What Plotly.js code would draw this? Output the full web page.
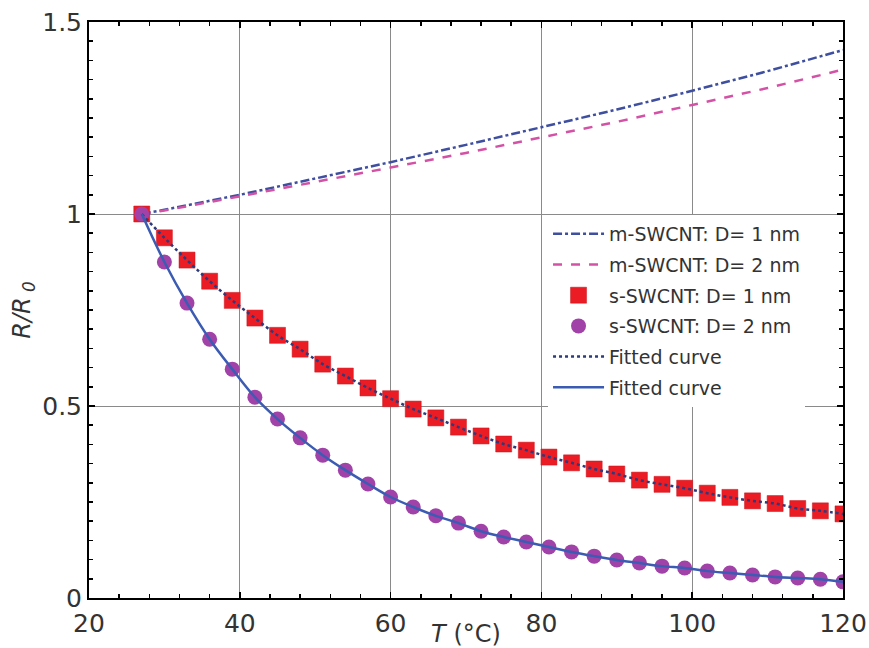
<!DOCTYPE html>
<html>
<head>
<meta charset="utf-8">
<script src="https://cdn.plot.ly/plotly-3.0.1.min.js"></script>
<style>html,body{margin:0;padding:0;background:#fff;}#chart{width:869px;height:648px;}</style>
</head>
<body>
<div id="chart"></div>
<script>
// Temperature (°C) for the s-SWCNT data points
const temps = [27,30,33,36,39,42,45,48,51,54,57,60,63,66,69,72,75,78,81,84,87,90,93,96,99,102,105,108,111,114,117,120];
// s-SWCNT D = 1 nm (R/R0)
const sD1 = [1.000,0.938,0.880,0.825,0.775,0.729,0.684,0.648,0.609,0.578,0.547,0.519,0.492,0.469,0.445,0.422,0.401,0.385,0.367,0.352,0.336,0.323,0.307,0.296,0.286,0.273,0.262,0.253,0.246,0.233,0.227,0.219];
// s-SWCNT D = 2 nm (R/R0)
const sD2 = [1.000,0.875,0.768,0.674,0.596,0.523,0.466,0.417,0.372,0.333,0.297,0.263,0.237,0.214,0.195,0.174,0.159,0.146,0.133,0.120,0.109,0.099,0.091,0.083,0.078,0.070,0.065,0.060,0.055,0.052,0.049,0.042];
// m-SWCNT curves
const tempsM = [27,30,40,50,60,70,80,90,100,110,120];
const mD1 = [1.000,1.011,1.050,1.092,1.135,1.180,1.226,1.272,1.321,1.372,1.427];
const mD2 = [1.000,1.009,1.046,1.083,1.121,1.159,1.199,1.240,1.284,1.328,1.376];
const names = ['m-SWCNT: D= 1 nm','m-SWCNT: D= 2 nm','s-SWCNT: D= 1 nm','s-SWCNT: D= 2 nm','Fitted curve','Fitted curve'];
const xTicks = [20,40,60,80,100,120];
const yTicks = [0,0.5,1,1.5];
const yTickText = ['0','0.5','1','1.5'];

const FONT = 'DejaVu Sans, Arial, sans-serif';
const traces = [
  {x: tempsM, y: mD1, name: names[0], mode: 'lines', legendgroup: 'a',
   line: {color: '#3f4fa0', width: 2.5, dash: 'dashdot'}},
  {x: tempsM, y: mD2, name: names[1], mode: 'lines', legendgroup: 'b',
   line: {color: '#d452a6', width: 2.5, dash: 'dash'}},
  {x: temps, y: sD1, name: names[2], mode: 'markers', legendgroup: 'c',
   marker: {symbol: 'square', size: 16, color: '#ec1c24', line: {color: '#c8141c', width: 0.5}}},
  {x: temps, y: sD2, name: names[3], mode: 'markers', legendgroup: 'd',
   marker: {symbol: 'circle', size: 15, color: '#a042a8', line: {width: 0}}},
  {x: temps, y: sD1, name: names[4], mode: 'lines', legendgroup: 'e',
   line: {color: '#2d3a7c', width: 2.5, dash: 'dot', shape: 'spline'}},
  {x: temps, y: sD2, name: names[5], mode: 'lines', legendgroup: 'f',
   line: {color: '#3b5cb2', width: 2.5, shape: 'spline'}}
];

const layout = {
  width: 869, height: 648,
  margin: {l: 89, r: 26, t: 22, b: 50},
  paper_bgcolor: '#fff', plot_bgcolor: '#fff',
  showlegend: true,
  legend: {
    x: 0.6088, xanchor: 'left', y: 0.665, yanchor: 'top',
    bgcolor: '#fff', borderwidth: 0, itemwidth: 51, tracegroupgap: 3,
    font: {family: FONT, size: 19, color: '#333'}
  },
  xaxis: {
    range: [20, 120], tickvals: xTicks, ticktext: xTicks.map(String),
    showline: true, linecolor: '#000', linewidth: 2, mirror: 'ticks',
    ticks: 'inside', ticklen: 6, tickwidth: 1.5, tickcolor: '#000',
    showgrid: true, gridcolor: '#8a8a8a', gridwidth: 1, zeroline: false,
    minor: {dtick: 4, tick0: 20, ticks: 'inside', ticklen: 4, tickcolor: '#000', showgrid: false},
    ticklabelstandoff: 2,
    tickfont: {family: FONT, size: 25, color: '#333'},
    title: {text: '<i>T</i> (°C)', font: {family: FONT, size: 24, color: '#333'}, standoff: 11}
  },
  yaxis: {
    range: [0, 1.5], tickvals: yTicks, ticktext: yTickText,
    showline: true, linecolor: '#000', linewidth: 2, mirror: 'ticks',
    ticks: 'inside', ticklen: 6, tickwidth: 1.5, tickcolor: '#000',
    showgrid: true, gridcolor: '#8a8a8a', gridwidth: 1, zeroline: false,
    minor: {dtick: 0.05, tick0: 0, ticks: 'inside', ticklen: 4, tickcolor: '#000', showgrid: false},
    tickfont: {family: FONT, size: 25, color: '#333'},
    title: {text: '<i>R/R</i><sub><i> 0</i></sub>', font: {family: FONT, size: 24, color: '#333'}}
  }
};
Plotly.newPlot('chart', traces, layout, {displayModeBar: false, staticPlot: true});
</script>
</body>
</html>
